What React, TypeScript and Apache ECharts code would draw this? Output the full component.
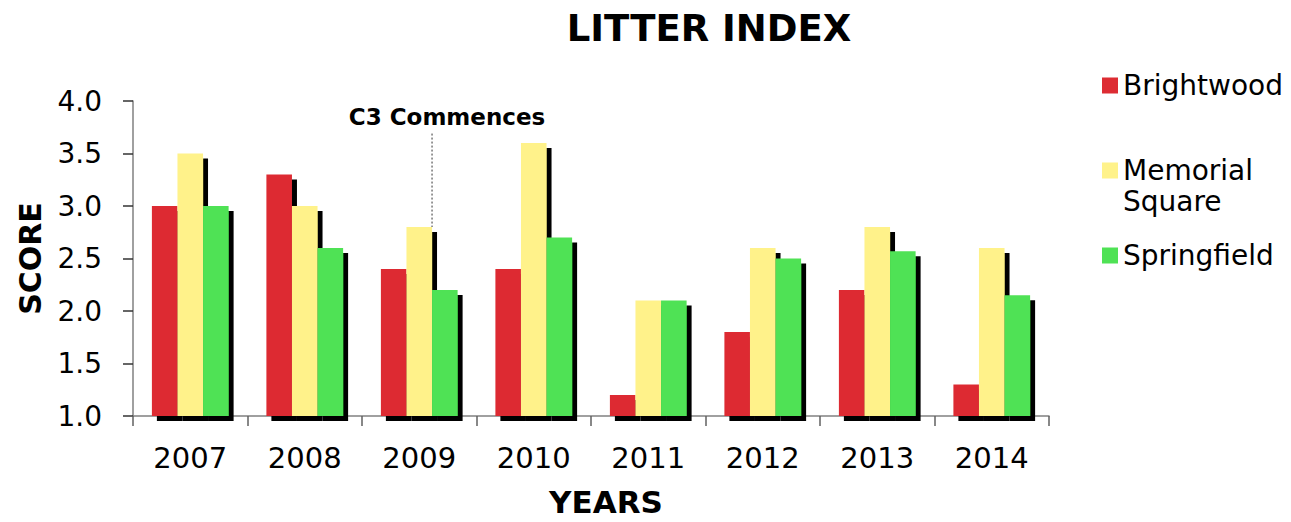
import React, { useEffect, useRef } from "react";
import * as echarts from "echarts";

const YEARS = ["2007", "2008", "2009", "2010", "2011", "2012", "2013", "2014"];
const BRIGHTWOOD = [3.0, 3.3, 2.4, 2.4, 1.2, 1.8, 2.2, 1.3];
const MEMORIAL_SQUARE = [3.5, 3.0, 2.8, 3.6, 2.1, 2.6, 2.8, 2.6];
const SPRINGFIELD = [3.0, 2.6, 2.2, 2.7, 2.1, 2.5, 2.57, 2.15];
const SERIES_NAMES = ["Brightwood", "Memorial Square", "Springfield"];
const SERIES_DATA = [BRIGHTWOOD, MEMORIAL_SQUARE, SPRINGFIELD];
const COLORS = ["#DD2C33", "#FFF28A", "#4FE255"];
const Y_MIN = 1;
const Y_MAX = 4;
const Y_INTERVAL = 0.5;
const ANNOTATION_TEXT = "C3 Commences";
const ANNOTATION_YEAR = "2009";
const ANNOTATION_SERIES = 1;
const ANNOTATION_LINE_TOP = 3.69;
const ANNOTATION_LABEL_Y = 3.85;

const FONT = "DejaVu Sans";
const CATEGORY_GAP = 0.33;

export default function App() {
  const ref = useRef<HTMLDivElement>(null);

  useEffect(() => {
    if (!ref.current) return;
    const chart = echarts.init(ref.current, null, { renderer: "svg" });

    const squareIcon = "path://M0,0H10V10H0Z";
    const tallIcon = "path://M0,0H10V10H0Z M0,29.4L10,29.4Z";

    const legendBase = {
      orient: "vertical" as const,
      left: 1097,
      itemWidth: 16,
      itemHeight: 16,
      selectedMode: false,
      textStyle: { fontFamily: FONT, fontSize: 28, color: "#000", lineHeight: 31 },
      itemStyle: { borderWidth: 0 },
    };

    chart.setOption({
      animation: false,
      title: {
        text: "LITTER INDEX",
        left: 704,
        top: 5,
        textAlign: "center",
        textStyle: { fontFamily: FONT, fontSize: 37, fontWeight: "bold", color: "#000" },
      },
      legend: [
        { ...legendBase, top: 65, data: [{ name: SERIES_NAMES[0], icon: squareIcon }] },
        {
          ...legendBase,
          top: 150,
          itemHeight: 47,
          data: [{ name: SERIES_NAMES[1], icon: tallIcon }],
          formatter: (n: string) => n.replace(" ", "\n"),
        },
        { ...legendBase, top: 235, data: [{ name: SERIES_NAMES[2], icon: squareIcon }] },
      ],
      grid: { left: 133, right: 242, top: 101, bottom: 105, containLabel: false },
      xAxis: {
        type: "category",
        data: YEARS,
        name: "YEARS",
        nameLocation: "middle",
        nameGap: 70,
        nameTextStyle: {
          fontFamily: FONT,
          fontSize: 31,
          fontWeight: "bold",
          color: "#000",
          padding: [0, 0, 0, 30],
        },
        axisLine: { lineStyle: { color: "#808080", width: 1.5 } },
        axisTick: { show: true, length: 10, lineStyle: { color: "#606060", width: 1.5 } },
        axisLabel: { fontFamily: FONT, fontSize: 29, color: "#000", margin: 27 },
      },
      yAxis: {
        type: "value",
        min: Y_MIN,
        max: Y_MAX,
        interval: Y_INTERVAL,
        name: "SCORE",
        nameLocation: "middle",
        nameRotate: 90,
        nameGap: 88,
        nameTextStyle: { fontFamily: FONT, fontSize: 30, fontWeight: "bold", color: "#000" },
        splitLine: { show: false },
        axisLine: { show: true, lineStyle: { color: "#808080", width: 1.5 } },
        axisTick: { show: true, length: 10, lineStyle: { color: "#333", width: 1.5 } },
        axisLabel: {
          fontFamily: FONT,
          fontSize: 28,
          color: "#000",
          margin: 31,
          formatter: (v: number) => v.toFixed(1),
        },
      },
      series: SERIES_NAMES.map((name, i) => ({
        name,
        type: "bar",
        data: SERIES_DATA[i],
        barGap: "0%",
        barCategoryGap: `${CATEGORY_GAP * 100}%`,
        itemStyle: {
          color: COLORS[i],
          shadowColor: "#000",
          shadowBlur: 0,
          shadowOffsetX: 5,
          shadowOffsetY: 5,
        },
      })),
    });

    const idx = YEARS.indexOf(ANNOTATION_YEAR);
    const val = SERIES_DATA[ANNOTATION_SERIES][idx];
    const p = chart.convertToPixel({ gridIndex: 0 }, [ANNOTATION_YEAR, val]) as number[];
    const pNext = chart.convertToPixel({ gridIndex: 0 }, [YEARS[idx + 1], ANNOTATION_LINE_TOP]) as number[];
    const pLabel = chart.convertToPixel({ gridIndex: 0 }, [ANNOTATION_YEAR, ANNOTATION_LABEL_Y]) as number[];
    const band = pNext[0] - p[0];
    const barW = (band * (1 - CATEGORY_GAP)) / 3;
    const lineX = p[0] + (ANNOTATION_SERIES - 1) * barW + barW / 2;

    chart.setOption({
      graphic: [
        {
          type: "line",
          shape: { x1: lineX, y1: pNext[1], x2: lineX, y2: p[1] },
          style: { stroke: "#333", lineWidth: 1, lineDash: [2, 2] },
          z: 10,
        },
        {
          type: "text",
          x: lineX + 15,
          y: pLabel[1],
          style: {
            text: ANNOTATION_TEXT,
            fontFamily: FONT,
            fontSize: 23,
            fontWeight: "bold",
            fill: "#000",
            textAlign: "center",
            textVerticalAlign: "middle",
          },
          z: 10,
        },
      ],
    });

    return () => chart.dispose();
  }, []);

  return (
    <div
      ref={ref}
      style={{ position: "fixed", left: 0, top: 0, width: 1291, height: 522, background: "#fff" }}
    />
  );
}
